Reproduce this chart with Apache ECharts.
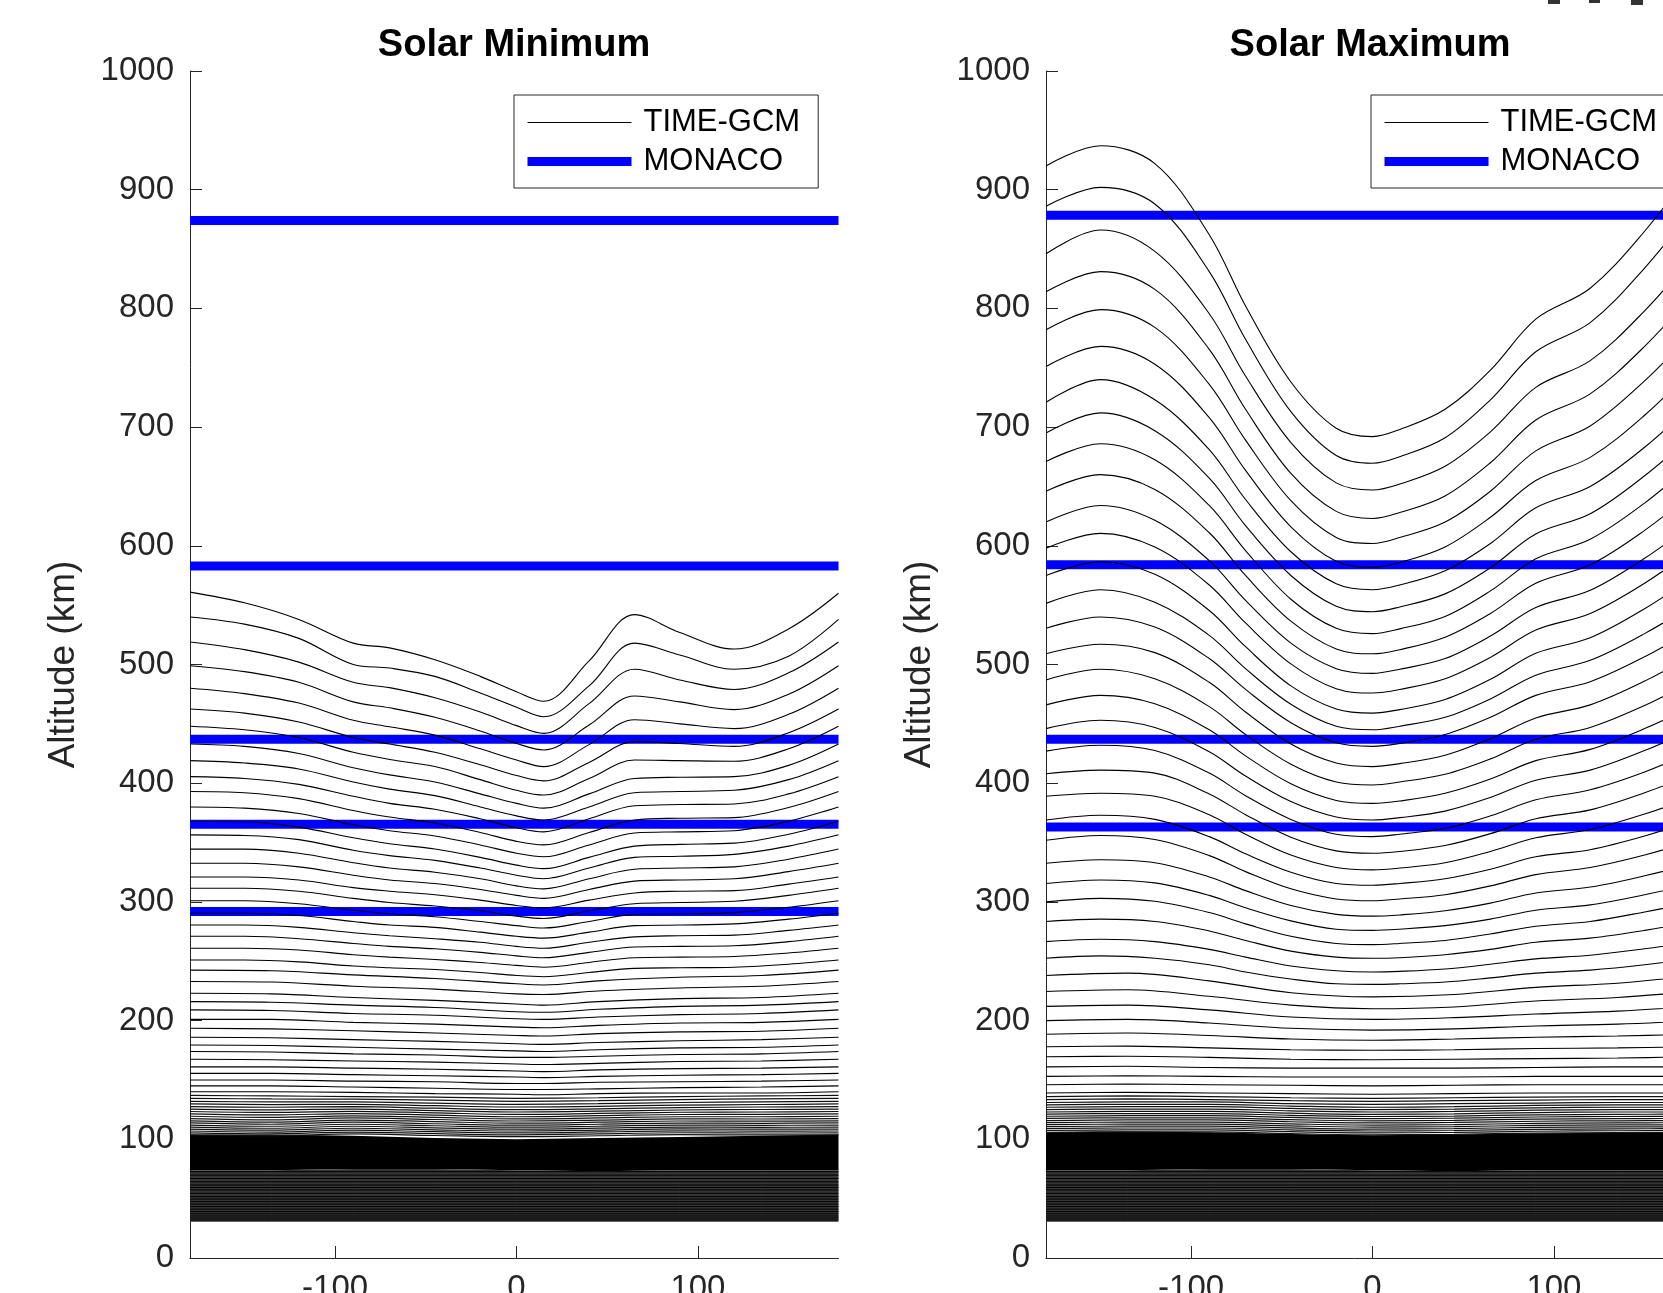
<!DOCTYPE html>
<html><head><meta charset="utf-8">
<script src="https://cdn.jsdelivr.net/npm/echarts@6/dist/echarts.min.js"></script>
<style>html,body{margin:0;padding:0;background:#fff;}#c{width:1663px;height:1293px;}</style>
</head><body><div id="c"></div>
<script>
// ---------- data ----------
const LON = [-180,-150,-120,-90,-70,-45,-20,0,15,40,65,90,120,150,177.5];
const LON9 = [-180,-135,-90,-45,0,45,90,135,177.5];
const LON10 = [-180,-135,-90,-45,0,15,45,90,135,177.5];
const X_TICKS = [-100,0,100];
const TITLES = ['Solar Minimum','Solar Maximum'];
const MONACO_MIN = [874,583,437,365.5,292];
const MONACO_MAX = [878.5,584,437,363];

const MIN_UPPER = [
[561,552,538,518,514,504,490,477,469,503,542,527,513,530,560],
[540,534,522,500,497,490,476,464,456,482,518,508,496,507,538],
[519,512.5,502,485,480.5,472,460,448.5,442,467,496,487,479,493,519],
[499,494,485,468.5,463.5,455.5,444,433.5,428,449,473.5,468.5,462,475,499],
[480,475.5,467.5,453,447.5,440.5,429,419.5,414,432.5,453.5,450,446,458,480],
[462.5,459,451.5,438.5,433,426,415.5,406.5,402,417.5,435,433.5,431,442.5,462.5],
[448,445,438.5,426,420,414,403,394,390,404,419.5,419,418.5,429,448],
[433,431,425,413,407,401,391,383,379,391,404,405,405.5,415,433],
[419,417,412,401,395,389.5,380,372.5,369,380,392,393,394,403,419],
[405.5,404,399,389,383,378,370,362.5,359,370,381,382,382.5,391,405.5],
[393,392,387,377,371.5,366.5,358.5,351,348,358.5,369,370.5,371,379.5,393],
[380,379,374.5,365,360,355.5,348,341,338,348,358,359,360,368,380],
[368,367.5,363,354,349,344.5,337.5,331,328,337.5,347,348.5,349.5,357,368],
[356.5,356,352.5,343.5,339,335,328.5,322.5,319.5,328.5,337.5,338.5,340,347,356.5],
[344.5,344.5,341,333,328.5,325,319.5,313.5,311,319.5,327.5,328.5,329.5,336,344.5],
[332.5,332.5,329.5,322.5,318.5,315.5,310.5,305.5,303,310.5,317.5,318.5,319.5,325.5,332.5],
[321,321,318.5,312,309,306,301.5,297,295,301.5,307.5,309,309.5,315,321],
[311.5,311.5,309,303,299.5,296.5,292.5,288,286,292.5,298.5,299.5,300.5,305.5,311.5],
[301,301,298.5,293,290,287.5,283.5,280,278,283.5,289.5,290,291,295.5,301],
[290.5,290.5,288.5,283.5,280.5,278.5,274.5,271,269.5,274.5,280,280.5,281.5,285.5,290.5],
[280.5,280.5,278.5,274,271.5,269,266,262.5,261,266,270.5,271.5,272,276,280.5],
[271,271,269,265,262.5,260.5,257.5,254.5,253,257.5,262,262.5,263,266.5,271],
[261,261,259.5,255.5,253.5,251.5,249,246.5,245,249,253,253.5,254,257,261],
[251,251,249.5,246,244.5,243,240.5,238,237,240.5,244,244.5,245,247.5,251]
];
const MIN_LOWER = [
[242.5,242,238.5,235.5,231,230,233.5,236.5,238,242.5],
[233,232.5,229,226.5,222.5,222,225,227.5,229,233],
[223,222.5,219.5,217,214,213,216,218.5,219.5,223],
[216,215.5,213,211,207.5,207,209.5,212,213,216],
[209,208.5,206,204.5,201.5,201,203,205,206,209],
[201,201,198.5,197,194.5,194,196,198,198.5,201],
[193.5,193,191.5,189.5,187.5,187,189,190.5,191,193.5],
[186,185.5,184,182.5,180.5,180,181.5,183,184,186],
[179.5,179,177.5,176,174.5,174,175.5,177,177.5,179.5],
[174,173.5,172,171,169,169,170,171.5,172,174],
[167.5,167,166,165,163.5,163,164,165.5,166,167.5],
[161,161,160,159,157.5,157,158.5,159.5,160,161],
[155.5,155.5,154.5,153.5,152.5,152,153,154,154.5,155.5],
[150,150,149,148.5,147,147,148,148.5,149,150],
[145,145,144,143,142,142,142.5,143.5,144,145],
[140,140,139.5,138.5,138,137.5,138.5,139,139,140]
];
const MIN_DENSE = [
[137,136.5,136,135.5,134.5,135,136,136.5,137],
[134.5,134,133.8,133,132,132.5,133.5,134,134.5],
[132,131.5,131.5,130.5,129.5,130,131,131.5,132],
[129.8,129.2,129.5,128.3,127.2,127.8,128.8,129.3,129.8],
[127.6,127,127.5,126.2,125,125.7,126.7,127.2,127.6],
[125.5,124.8,125.5,124.2,123,123.7,124.7,125.1,125.5],
[123.4,122.6,123.6,122.3,121,121.8,122.8,123,123.4],
[121.4,120.5,121.7,120.4,119,119.9,120.9,121,121.4],
[119.4,118.4,119.8,118.5,117.2,118,119,119,119.4],
[117.5,116.4,118,116.7,115.4,116.2,117.2,117.1,117.5],
[115.6,114.5,116.2,114.9,113.6,114.4,115.4,115.3,115.6],
[113.8,112.7,114.4,113.1,111.9,112.7,113.7,113.5,113.8],
[112,111,112.7,111.4,110.2,111,112,111.8,112],
[110.3,109.3,111,109.7,108.6,109.4,110.3,110.1,110.3],
[108.6,107.7,109.3,108,107,107.8,108.7,108.5,108.6],
[107,106.1,107.7,106.4,105.4,106.2,107.1,106.9,107],
[105.4,104.6,106.1,104.8,103.8,104.6,105.5,105.3,105.4],
[103.8,103.1,104.5,103.2,102.2,103,103.9,103.7,103.8]
];
const MAX_UPPER = [
[920,937,922,862,802,738,699,692,698,715,748,791,817,865,920],
[886,902,888,831,774,713,676,669.5,675,691,723,763.5,788,834,886],
[846,866,848,795.5,743,687,653,647,652,667,696,733.5,756,798,846],
[814,831,816,765.5,715,661,629,623,628,642,670,706,728,768,814],
[782,799,784,736,689,638,607,602,607,620,646,680,701,739,782],
[751,768,753,708,663.5,616,587,582,586,599,624,655,674.5,710,751],
[721,740,723,681,639,595,568,563,567,579,602,632,650,683,721],
[695,712,697,657,617,575,549,544.5,548.5,559.5,581.5,610,627,659,695],
[671,686,672.5,634,596,555,530.5,526,530,540.5,562,589,605.5,636,671],
[646,660,647.5,611,575,536.5,513,509,512.5,523,543,568.5,584,613,646],
[620,634,621.5,587.5,554,518,496.5,492.5,496,505,524,548,562.5,589.5,620],
[598,610.5,599,567,535,500.5,479.5,476,479,488,506,529,543,568.5,598],
[575,586.5,576,545.5,515,482,462.5,459,462,470.5,487.5,509.5,522.5,547,575],
[551.5,563,552.5,524.5,496.5,466.5,448,445,448,455.5,471,491,503.5,526,551.5],
[530.5,540,531.5,505,479,451,434,431,433.5,441,455.5,474,485.5,506.5,530.5],
[509,517,510,485,460,433,417,414,416.5,423.5,437.5,455,466,486,509],
[487,496,488,464.5,441,416,401,398.5,401,407.5,420.5,437,447,465.5,487],
[466,474,467,445,423,399.5,385.5,383,385,391.5,403.5,419,428.5,446,466],
[446,453,447,426.5,406,384.5,371.5,369,371,376.5,388,402.5,411,427.5,446],
[427,432,427.5,408.5,389.5,369.5,357,355,357,362,372.5,386,394.5,409.5,427],
[408,411,408.5,391,373.5,354.5,343,341,342.5,347.5,357.5,370,377.5,392,408],
[389,391.5,389,373.5,357,339.5,329,327,328.5,333,342.5,354,361,374,389],
[369,373,369.5,355,340.5,325,315.5,314,315.5,319.5,327.5,338,344,355.5,369],
[352,356,352.5,339,325.5,311,302.5,301,302.5,306,313.5,323,329,339.5,352],
[332.5,335.5,333,321,309.5,297,289.5,288,289,292.5,299,307.5,312.5,322,332.5],
[315.5,318.5,316,305.5,295,284,277,276,277,280,285.5,293,297.5,306,315.5],
[300,303,300.5,291,281.5,271,265,264,265,267.5,273,279.5,283.5,291.5,300],
[283.5,285.5,283.5,275.5,267.5,258.5,253.5,252.5,253,255.5,260,266,269.5,276,283.5],
[266.5,268.5,266.5,260,253.5,246,242,241,241.5,243.5,247.5,252,255,260.5,266.5],
[252.5,254.5,252.5,247,241,235,231,230.5,231,232.5,236,240,242.5,247,252.5]
];
const MAX_LOWER = [
[238,240,233.5,223.5,220,222,228,231.5,238],
[224.5,226,220.5,213,210,211.5,216.5,219.5,224.5],
[212,213,209,203,201,202.5,205.5,208,212],
[200,201,198,193.5,192,193,195.5,197,200],
[188.5,189.5,187.5,184.5,183.5,184.5,186,187,188.5],
[178,178.5,177,175.5,175,175.5,176.5,177,178],
[169.5,170,169,167.5,167,167.5,168,168.5,169.5],
[161,161.5,160.5,160,160,160,160.5,161,161],
[153,153.5,153,152.5,152.5,152.5,153,153,153],
[146,146.5,146,145.5,145,145.5,146,146,146],
[139,139.5,139,138.5,138,138.5,139,139,139]
];
const MAX_DENSE = [
[136,136.5,136,135,134.5,135,135.5,136,136],
[133.5,134,133.5,132.5,132,132.5,133,133.5,133.5],
[131,131.5,131.5,130,129.5,130,130.5,131,131],
[129,129.5,129.5,128,127,127.5,128.5,129,129],
[127,127.5,127.5,126,125,125.5,126.5,127,127],
[125,125.5,125.5,124,123,123.5,124.5,125,125],
[123,123.5,123.5,122,121,121.5,122.5,123,123],
[121.2,121.7,121.7,120.2,119.2,119.6,120.6,121,121.2],
[119.4,119.9,119.9,118.4,117.4,117.8,118.8,119.2,119.4],
[117.6,118.1,118.1,116.6,115.6,116,117,117.4,117.6],
[115.8,116.3,116.3,114.8,113.8,114.2,115.2,115.6,115.8],
[114,114.5,114.5,113,112,112.4,113.4,113.8,114],
[112.3,112.8,112.8,111.3,110.3,110.7,111.7,112.1,112.3],
[110.6,111.1,111.1,109.6,108.6,109,110,110.4,110.6],
[109,109.5,109.5,108,107,107.4,108.4,108.8,109],
[107.4,107.9,107.9,106.4,105.4,105.8,106.8,107.2,107.4],
[105.8,106.3,106.3,104.8,103.8,104.2,105.2,105.6,105.8]
];
const MIN_BAND_TOP = [104,104,103,101,100,101,102,103,104];
const MAX_BAND_TOP = [106,106.5,106,104.5,103.5,104,105,105.5,106];
const BAND_SPLIT = [74,74,75,75,74,73,74,74,74];
const BAND_BOTTOM = [30.5,30.5,30.5,30.5,30.5,30.5,30.5,30.5,30.5];
const BAND_STRIPES = [72.7,69.8,67,64.2,61.5,59.4,57.3,54.5,51.7,49.6,47.5,45.4,43.3,41.2,39.1,37.2,35.4,33.7,32];

// ---------- chart ----------
const FONT = 'Liberation Sans, Arial, Helvetica, sans-serif';
const AX = '#262626';
const series = [];
function lineRows(rows, lon, g, extra) {
  rows.forEach(r => series.push(Object.assign({
    type: 'line', name: 'TIME-GCM', xAxisIndex: g, yAxisIndex: g,
    smooth: 0.35, symbol: 'none', silent: true, z: 3,
    lineStyle: { color: '#000', width: 1.1 },
    data: lon.map((x, i) => [x, r[i]])
  }, extra || {})));
}
function band(g, upper, lower, fill) {
  series.push({
    type: 'custom', xAxisIndex: g, yAxisIndex: g, silent: true, z: 1, clip: true,
    encode: { x: 0, y: [1, 2] },
    data: LON9.map((x, i) => [x, lower[i], upper[i]]),
    renderItem: function (params, api) {
      if (params.dataIndex !== 0) return null;
      const pts = [];
      for (let i = 0; i < LON9.length; i++) pts.push(api.coord([LON9[i], upper[i]]));
      for (let i = LON9.length - 1; i >= 0; i--) pts.push(api.coord([LON9[i], lower[i]]));
      return { type: 'polygon', shape: { points: pts }, style: { fill: fill } };
    }
  });
}
function monaco(vals, g) {
  vals.forEach(v => series.push({
    type: 'line', name: 'MONACO', xAxisIndex: g, yAxisIndex: g, symbol: 'none',
    silent: true, z: 2, lineStyle: { color: '#0000ff', width: 9 },
    data: [[-180, v], [177.5, v]]
  }));
}
// first series of each name defines the legend icon
lineRows([MIN_UPPER[0]], LON, 0);
monaco(MONACO_MIN, 0);
monaco(MONACO_MAX, 1);
[0, 1].forEach(g => {
  const top = g ? MAX_BAND_TOP : MIN_BAND_TOP;
  band(g, top, BAND_SPLIT, '#000');
  band(g, BAND_SPLIT, BAND_BOTTOM, '#353535');
  BAND_STRIPES.forEach(v => series.push({
    type: 'line', name: 'TIME-GCM', xAxisIndex: g, yAxisIndex: g, symbol: 'none', silent: true, z: 3,
    lineStyle: { color: '#000', width: 1 }, data: LON9.map(x => [x, v])
  }));
});
lineRows(MIN_UPPER.slice(1), LON, 0);
lineRows(MIN_LOWER, LON10, 0);
lineRows(MIN_DENSE, LON9, 0, { lineStyle: { color: '#111', width: 1.2 } });
lineRows(MAX_UPPER, LON, 1);
lineRows(MAX_LOWER, LON9, 1);
lineRows(MAX_DENSE, LON9, 1, { lineStyle: { color: '#111', width: 1.2 } });

const grids = [0, 1].map(g => ({ left: g ? 1046 : 190, top: 71, width: 648.5, height: 1187, outerBoundsMode: 'none', containLabel: false }));
const xAxes = [0, 1].map(g => ({
  type: 'value', gridIndex: g, min: -180, max: 177.5,
  axisLine: { onZero: false, lineStyle: { color: AX, width: 1 } },
  axisTick: { inside: true, length: 12, lineStyle: { color: AX }, customValues: X_TICKS },
  axisLabel: { customValues: X_TICKS, fontSize: 33, color: AX, fontFamily: FONT, margin: 14 },
  splitLine: { show: false }
}));
const yAxes = [0, 1].map(g => ({
  type: 'value', gridIndex: g, min: 0, max: 1000, interval: 100,
  name: 'Altitude (km)', nameLocation: 'middle', nameGap: 108,
  nameTextStyle: { fontSize: 37, color: AX, fontFamily: FONT },
  axisLine: { show: true, onZero: false, lineStyle: { color: AX, width: 1 } },
  axisTick: { show: true, inside: true, length: 12, lineStyle: { color: AX } },
  axisLabel: { fontSize: 33, color: AX, fontFamily: FONT, margin: 16, formatter: v => String(v) },
  splitLine: { show: false }
}));
const legends = [0, 1].map(g => ({
  left: g ? 1371 : 514, top: 95, orient: 'vertical', data: ['TIME-GCM', 'MONACO'],
  itemWidth: 104, itemHeight: 14, itemGap: 8, padding: [12, 18, 11, 9],
  borderColor: AX, borderWidth: 1, backgroundColor: '#fff', selectedMode: false,
  itemStyle: { opacity: 0 },
  lineStyle: { width: 'inherit' },
  textStyle: { fontSize: 31, color: '#000', fontFamily: FONT, padding: [0, 0, 0, 7] }
}));
const titles = [0, 1].map(g => ({
  text: TITLES[g], left: g ? 1370 : 514, top: 27, textAlign: 'center', padding: 0,
  textStyle: { fontSize: 38, fontWeight: 'bold', color: '#000', fontFamily: FONT }
}));

const chart = echarts.init(document.getElementById('c'), null, { renderer: 'canvas' });
chart.setOption({
  animation: false, backgroundColor: '#fff',
  title: titles, legend: legends, grid: grids, xAxis: xAxes, yAxis: yAxes, series: series,
  graphic: [
    { type: 'rect', shape: { x: 1548, y: 0, width: 12, height: 4 }, style: { fill: '#333' } },
    { type: 'rect', shape: { x: 1589, y: 0, width: 11, height: 3 }, style: { fill: '#333' } },
    { type: 'rect', shape: { x: 1631, y: 0, width: 12, height: 5 }, style: { fill: '#333' } }
  ]
});
</script></body></html>
